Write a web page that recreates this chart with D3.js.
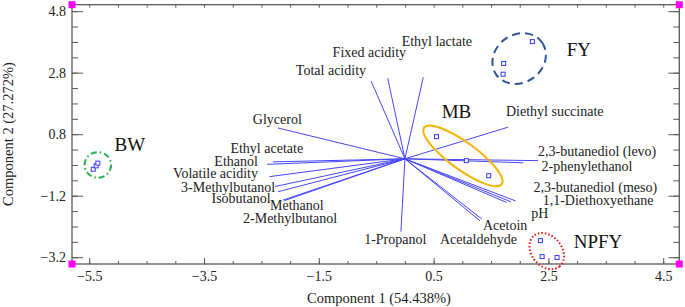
<!DOCTYPE html>
<html><head><meta charset="utf-8">
<script src="https://cdn.jsdelivr.net/npm/d3@7"></script>
<style>html,body{margin:0;padding:0;background:#fff;}svg{display:block;}</style>
</head><body><svg id="c" width="685" height="307"></svg>
<script>
// ---------- DATA ----------
const loadingNames = ["Total acidity","Fixed acidity","Ethyl lactate","Glycerol","Ethyl acetate","Ethanol",
  "Volatile acidity","3-Methylbutanol","Isobutanol","Methanol","2-Methylbutanol","1-Propanol",
  "Diethyl succinate","2,3-butanediol (levo)","2-phenylethanol","2,3-butanediol (meso)",
  "1,1-Diethoxyethane","pH","Acetoin","Acetaldehyde"];
const loadingX = [-0.59,-0.30,0.32,-2.21,-2.30,-2.40,-2.36,-2.26,-2.21,-2.12,-2.10,-0.07,1.80,2.32,2.06,1.93,1.77,1.85,1.34,1.31];
const loadingY = [2.53,2.62,2.65,1.00,-0.10,-0.18,-0.58,-0.90,-1.07,-1.34,-1.36,-2.37,1.03,-0.06,-0.13,-1.37,-1.42,-1.40,-1.96,-2.02];

const groupNames = ["BW","FY","MB","NPFY"];
const scoreGroup = ["BW","BW","BW","FY","FY","FY","MB","MB","MB","NPFY","NPFY","NPFY"];
const scoreX = [-5.43,-5.38,-5.35, 2.22,1.72,1.71, 0.55,1.07,1.46, 2.36,2.39,2.65];
const scoreY = [-0.34,-0.23,-0.14, 3.81,3.10,2.75, 0.72,-0.06,-0.55, -2.66,-3.18,-3.21];
const groupCenterX = [-5.35, 1.99, 1.01, 2.47];
const groupCenterY = [-0.20, 3.26, 0.094, -3.00];

const xTickLabels = [-5.5,-3.5,-1.5,0.5,2.5,4.5];
const yTickLabels = [-3.2,-1.2,0.8,2.8,4.8];
const xTitle = "Component 1 (54.438%)";
const yTitle = "Component 2 (27.272%)";

// ---------- LAYOUT ----------
const svg = d3.select("#c");
const L = 72, R = 679.3, T = 4.7, B = 264;
const x = d3.scaleLinear().domain([-5.8, 4.78]).range([L, R]);
const y = d3.scaleLinear().domain([-3.42, 5.01]).range([B, T]);
const serif = "'Liberation Serif','Times New Roman',serif";
const axisCol = "#5a5a5a";

// label anchors (data units): [x, baseline y, anchor]
const labelPos = {
  "Ethyl lactate":[-0.057,3.67,"start"], "Fixed acidity":[-1.26,3.31,"start"], "Total acidity":[-1.90,2.73,"start"],
  "Glycerol":[-2.65,1.12,"start"], "Ethyl acetate":[-3.04,0.18,"start"], "Ethanol":[-3.32,-0.25,"start"],
  "Volatile acidity":[-2.56,-0.64,"end"], "3-Methylbutanol":[-2.26,-1.08,"end"], "Isobutanol":[-2.34,-1.43,"end"],
  "Methanol":[-2.35,-1.65,"start"], "2-Methylbutanol":[-2.82,-2.10,"start"], "1-Propanol":[-0.71,-2.78,"start"],
  "Diethyl succinate":[1.76,1.38,"start"], "2,3-butanediol (levo)":[2.32,0.094,"start"], "2-phenylethanol":[2.38,-0.39,"start"],
  "2,3-butanediol (meso)":[2.24,-1.08,"start"], "1,1-Diethoxyethane":[2.40,-1.50,"start"], "pH":[2.20,-1.92,"start"],
  "Acetoin":[1.36,-2.30,"start"], "Acetaldehyde":[0.61,-2.78,"start"]
};
const groupLabelPos = {"BW":[-5.06,0.26],"FY":[2.82,3.35],"MB":[0.64,1.32],"NPFY":[2.94,-2.91]};
const ellipseStyle = {
  "BW":  {rx:13.3, ry:12.8, rot:0,   color:"#22b04a", dash:"6,3,1.5,3"},
  "FY":  {rx:28,   ry:24,   rot:-35, color:"#2f5597", dash:"8,5"},
  "MB":  {rx:48,   ry:13.5, rot:36,  color:"#f5b400", dash:null},
  "NPFY":{rx:20,   ry:15,   rot:50,  color:"#e8141e", dash:"1.5,2"}
};

// ---------- AXES ----------
const minorX = d3.range(-5.5, 4.51, 0.5);
const minorY = d3.range(-3.2, 4.81, 0.5);

const gAx = svg.append("g");
function styleAxis(g){ g.select(".domain").remove(); g.selectAll("line").attr("stroke", axisCol).attr("stroke-width",1);
  g.selectAll("text").attr("font-family", serif).attr("font-size", 14).attr("fill", "#222"); }
gAx.append("g").attr("transform",`translate(${L},0)`).call(d3.axisLeft(y).tickValues(minorY).tickSize(-6).tickFormat("")).call(styleAxis);
gAx.append("g").attr("transform",`translate(${L},0)`).call(d3.axisLeft(y).tickValues(yTickLabels).tickSize(-11).tickPadding(6).tickFormat(d3.format(".1f"))).call(styleAxis);
gAx.append("g").attr("transform",`translate(${R},0)`).call(d3.axisRight(y).tickValues(minorY).tickSize(-6).tickFormat("")).call(styleAxis);
gAx.append("g").attr("transform",`translate(${R},0)`).call(d3.axisRight(y).tickValues(yTickLabels).tickSize(-11).tickFormat("")).call(styleAxis);
gAx.append("g").attr("transform",`translate(0,${B})`).call(d3.axisBottom(x).tickValues(minorX).tickSize(-3).tickFormat("")).call(styleAxis);
gAx.append("g").attr("transform",`translate(0,${B})`).call(d3.axisBottom(x).tickValues(xTickLabels).tickSize(-6).tickPadding(7).tickFormat(d3.format(".1f"))).call(styleAxis);
gAx.append("g").attr("transform",`translate(0,${T})`).call(d3.axisTop(x).tickValues(minorX).tickSize(-3).tickFormat("")).call(styleAxis);

svg.append("rect").attr("x",L).attr("y",T).attr("width",R-L).attr("height",B-T)
  .attr("fill","none").attr("stroke",axisCol).attr("stroke-width",1.3);

// ---------- LOADINGS ----------
const loadings = loadingNames.map((n,i)=>({name:n, x:loadingX[i], y:loadingY[i]}));
svg.append("g").selectAll("line").data(loadings).join("line")
  .attr("x1",x(0)).attr("y1",y(0)).attr("x2",d=>x(d.x)).attr("y2",d=>y(d.y))
  .attr("stroke","#4646ff").attr("stroke-width",1);
svg.append("g").selectAll("text").data(loadings).join("text")
  .attr("x",d=>x(labelPos[d.name][0])).attr("y",d=>y(labelPos[d.name][1]))
  .attr("text-anchor",d=>labelPos[d.name][2])
  .attr("font-family",serif).attr("font-size",14).attr("fill","#222").text(d=>d.name);

// ---------- GROUP ELLIPSES ----------
const groups = groupNames.map((n,i)=>({name:n, cx:groupCenterX[i], cy:groupCenterY[i]}));
svg.append("g").selectAll("ellipse").data(groups).join("ellipse")
  .attr("transform",d=>`translate(${x(d.cx)},${y(d.cy)}) rotate(${ellipseStyle[d.name].rot})`)
  .attr("rx",d=>ellipseStyle[d.name].rx).attr("ry",d=>ellipseStyle[d.name].ry)
  .attr("fill","none").attr("stroke",d=>ellipseStyle[d.name].color).attr("stroke-width",2)
  .attr("stroke-dasharray",d=>ellipseStyle[d.name].dash);
svg.append("g").selectAll("text").data(groups).join("text")
  .attr("x",d=>x(groupLabelPos[d.name][0])).attr("y",d=>y(groupLabelPos[d.name][1]))
  .attr("font-family",serif).attr("font-size",19).attr("fill","#111").text(d=>d.name);

// ---------- SCORES ----------
const scores = scoreX.map((v,i)=>({g:scoreGroup[i], x:v, y:scoreY[i]}));
svg.append("g").selectAll("rect").data(scores).join("rect")
  .attr("x",d=>x(d.x)-2).attr("y",d=>y(d.y)-2).attr("width",4).attr("height",4)
  .attr("fill","#fff").attr("stroke","#3535ff").attr("stroke-width",1);

// ---------- CORNER MARKERS ----------
const corners = [[x.domain()[0],y.domain()[1]],[x.domain()[1],y.domain()[1]],[x.domain()[0],y.domain()[0]],[x.domain()[1],y.domain()[0]]];
svg.append("g").selectAll("rect").data(corners).join("rect")
  .attr("x",d=>x(d[0])-3.5).attr("y",d=>y(d[1])-3.5).attr("width",7).attr("height",7).attr("fill","#ff00ff");

// ---------- TITLES ----------
svg.append("text").attr("x",379).attr("y",303).attr("text-anchor","middle")
  .attr("font-family",serif).attr("font-size",14.5).attr("fill","#222").text(xTitle);
svg.append("text").attr("transform","translate(13,134) rotate(-90)").attr("text-anchor","middle")
  .attr("font-family",serif).attr("font-size",14.5).attr("fill","#222").text(yTitle);
</script></body></html>
